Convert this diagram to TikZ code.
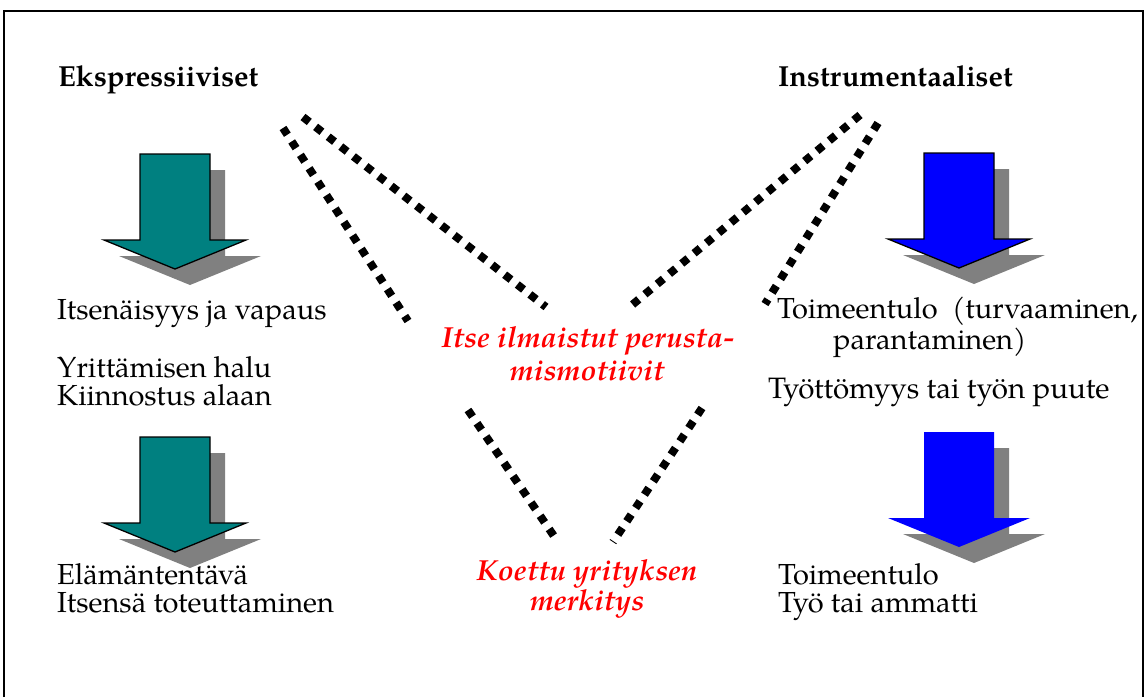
\documentclass[tikz,border=0pt]{standalone}
\usepackage{fontspec}
\setmainfont{TeX Gyre Pagella}
\definecolor{tealfill}{HTML}{008080}
\definecolor{shadowgray}{HTML}{808080}
\definecolor{bluefill}{HTML}{0000FF}
\definecolor{redtxt}{HTML}{FF0000}
\tikzset{
  txt/.style={inner sep=0pt, anchor=base west, font=\fontsize{29}{29}\selectfont},
  twoline/.style={inner sep=0pt, anchor=north west, align=left, font=\fontsize{29}{28.5}\selectfont},
  headtxt/.style={inner sep=0pt, anchor=base west, font=\fontsize{29}{29}\selectfont\bfseries},
  redlabel/.style={inner sep=0pt, anchor=base, text=redtxt, font=\fontsize{29}{29}\selectfont\bfseries\itshape},
  dotline/.style={line width=8pt, dash pattern=on 8pt off 8pt},
  frameline/.style={line width=2pt},
  bigarrow/.pic={
    \fill[shadowgray] (-20,16) -- (-20,102) -- (-56,102) -- (15,131) -- (86,102) -- (50,102) -- (50,16) -- cycle;
    \path[pic actions] (-35,0) -- (-35,86) -- (-71,86) -- (0,115) -- (71,86) -- (35,86) -- (35,0) -- cycle;
  }
}
\begin{document}
\begin{tikzpicture}[x=1pt, y=-1pt]
\useasboundingbox (0,0) rectangle (1145,697);
\draw[frameline] (4,697) -- (4,11) -- (1143,11) -- (1143,697);

% headings
\node[headtxt] (ekspr) at (58,86) {Ekspressiiviset};
\node[headtxt] (instr) at (778,86) {Instrumentaaliset};

% arrows
\pic[fill=tealfill, draw=black, line width=1.3pt] (a1) at (175,154) {bigarrow};
\pic[fill=tealfill, draw=black, line width=1.3pt] (a2) at (175,437) {bigarrow};
\pic[fill=bluefill, draw=black, line width=1.3pt] (a3) at (959,153) {bigarrow};
\pic[fill=bluefill] (a4) at (959,432) {bigarrow};

% left texts
\node[txt] (l1) at (57,319) {Itsenäisyys ja vapaus};
\node[txt, text depth=0pt] (l2) at (57,377) {Yrittämisen halu};
\node[txt] (l3) at (57,405) {Kiinnostus alaan};
\node[twoline] (l4) at (57,563) {Elämäntentävä\\Itsensä toteuttaminen};

% right texts
\node[txt] (r1) at (777,318) {Toimeentulo\ \ (turvaaminen,};
\node[txt] (r2) at (833,349) {parantaminen)};
\node[txt, font=\fontsize{29.5}{29.5}\selectfont] (r3) at (768,398) {Työttömyys tai työn puute};
\node[twoline] (r4) at (778,563) {Toimeentulo\\Työ tai ammatti};

% red centre texts
\node[redlabel, text depth=0pt] (m1) at (588,347) {Itse ilmaistut perusta-};
\node[redlabel] (m2) at (587,380) {mismotiivit};
\node[redlabel, text depth=0pt] (k1) at (587,580) {Koettu yrityksen};
\node[redlabel] (k2) at (587,610) {merkitys};

% dotted connectors
\coordinate (p1s) at (283,128);
\coordinate (p1e) at (408,321);
\coordinate (p2s) at (303,117);
\coordinate (p2e) at (546,307);
\coordinate (p3s) at (860,115);
\coordinate (p3e) at (632,305);
\coordinate (p4s) at (878,123);
\coordinate (p4e) at (765,304);
\coordinate (p5s) at (468,410);
\coordinate (p5e) at (558,542);
\coordinate (p6s) at (702,408);
\coordinate (p6e) at (613,542);
\draw[dotline] (p1s) -- (p1e);
\draw[dotline] (p2s) -- (p2e);
\draw[dotline] (p3s) -- (p3e);
\draw[dotline] (p4s) -- (p4e);
\draw[dotline] (p5s) -- (p5e);
\draw[dotline] (p6s) -- (p6e);
\end{tikzpicture}
\end{document}
